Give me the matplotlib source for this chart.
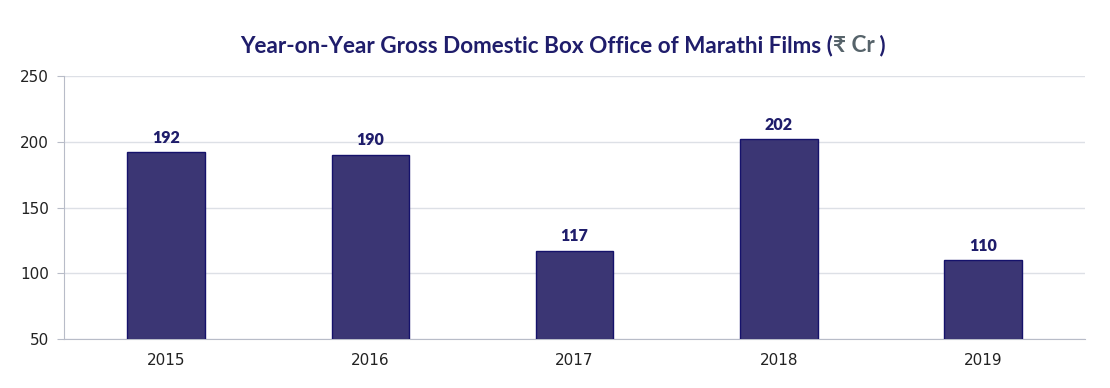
import matplotlib
matplotlib.use("Agg")
import matplotlib.pyplot as plt

years = ["2015", "2016", "2017", "2018", "2019"]
gross = [192, 190, 117, 202, 110]
y_ticks = [50, 100, 150, 200, 250]

NAVY = "#1f1d6b"
BAR = "#3b3674"
GRID = "#dde0e6"
SPINE = "#b8bcc8"

fig = plt.figure(figsize=(11.1, 3.88), dpi=100)
ax = fig.add_axes([0.0577, 0.1263, 0.9198, 0.6777])

x = range(len(years))
bars = ax.bar(x, gross, width=0.38, color=BAR, edgecolor="#15126b",
              linewidth=1.0, zorder=3)
for xi, v in zip(x, gross):
    ax.text(xi, v + 5, str(v), ha="center", va="bottom", fontsize=11.5,
            fontweight="heavy", color=NAVY, family=["Lato", "DejaVu Sans"])

ax.set_xlim(-0.5, len(years) - 0.5)
ax.set_ylim(50, 250)
ax.set_yticks(y_ticks)
ax.set_xticks(list(x))
ax.set_xticklabels(years)
ax.yaxis.grid(True, color=GRID, linewidth=1.0, zorder=0)
ax.set_axisbelow(True)
for s in ("top", "right"):
    ax.spines[s].set_visible(False)
ax.spines["left"].set_color(SPINE)
ax.spines["bottom"].set_color(SPINE)
ax.tick_params(axis="y", length=5, color=SPINE, labelsize=11,
               labelcolor="#222222", pad=6)
ax.tick_params(axis="x", length=0, labelsize=11, labelcolor="#222222", pad=10)

# title in three colour pieces
parts = [("Year-on-Year Gross Domestic Box Office of Marathi Films (", NAVY),
         ("₹ Cr", "#56636a"),
         (" )", NAVY)]
fig.canvas.draw()
renderer = fig.canvas.get_renderer()
texts = []
for s, c in parts:
    t = fig.text(0, 0.883, s, color=c, fontsize=16.2, fontweight="bold",
                 family=["Lato", "DejaVu Sans"], va="center", ha="left")
    texts.append(t)
widths = [t.get_window_extent(renderer).width for t in texts]
total = sum(widths)
xpix = 563 - total / 2
for t, w in zip(texts, widths):
    t.set_x(xpix / 1110)
    xpix += w

fig.savefig("out.png", dpi=100, facecolor="white")
